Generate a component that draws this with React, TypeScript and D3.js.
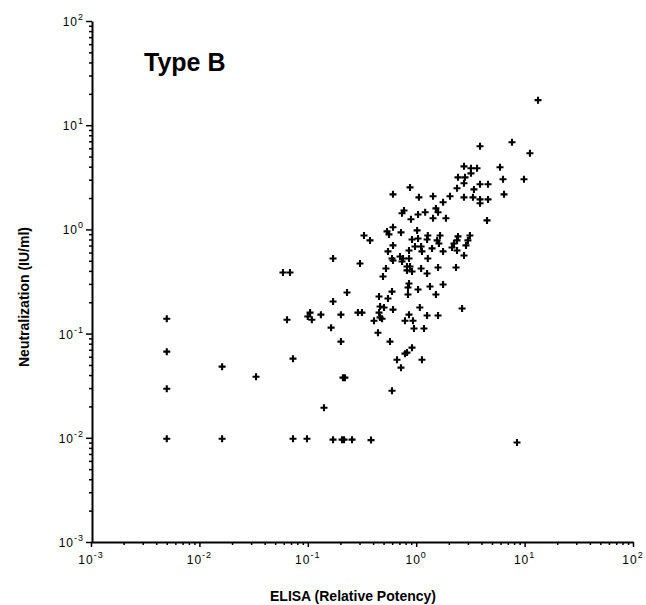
import React, { useEffect, useRef } from "react";
import * as d3 from "d3";

// [ELISA relative potency, neutralization IU/ml] for each type B serum
const sera: [number, number][] = [
  [13.3, 17.4], [3.88, 6.28], [7.65, 6.87], [11.2, 5.38], [5.93, 3.95],
  [3.2, 3.86], [3.64, 3.86], [3.2, 3.45], [6.32, 3.03], [9.87, 3.03],
  [3.88, 2.71], [4.6, 2.71], [3.41, 2.42], [6.46, 2.17], [3.34, 2.03],
  [3.88, 1.94], [4.6, 1.94], [3.88, 1.78], [4.5, 1.22], [3.13, 0.875],
  [8.51, 0.009], [2.65, 0.174], [2.76, 4.03], [2.43, 3.16], [2.82, 3.16],
  [2.76, 2.77], [0.877, 2.53], [0.611, 2.17], [1.06, 2.03], [1.43, 2.08],
  [1.77, 1.82], [2.05, 2.08], [2.38, 2.48], [2.76, 2.03], [0.772, 1.52],
  [0.74, 1.43], [1.04, 1.39], [1.21, 1.46], [0.895, 1.25], [1.43, 1.28],
  [1.52, 1.59], [1.59, 1.46], [1.88, 1.28], [0.33, 0.875], [0.375, 0.784],
  [0.538, 0.957], [0.561, 0.895], [0.611, 1.05], [0.724, 0.936], [1.02, 0.978],
  [0.915, 0.801], [1.04, 0.819], [0.975, 0.686], [1.11, 0.686], [1.28, 0.875],
  [1.26, 0.801], [1.56, 0.784], [1.62, 0.733], [1.66, 0.875], [1.4, 0.657],
  [1.77, 0.615], [2.14, 0.671], [2.23, 0.733], [2.38, 0.784], [2.43, 0.857],
  [2.38, 0.628], [2.88, 0.702], [3.0, 0.784], [2.76, 0.562], [0.611, 0.702],
  [0.549, 0.615], [0.598, 0.526], [0.611, 0.503], [0.709, 0.55], [0.756, 0.526],
  [0.74, 0.492], [0.858, 0.526], [0.858, 0.628], [1.13, 0.615], [1.28, 0.526],
  [0.526, 0.422], [0.822, 0.441], [0.877, 0.441], [0.822, 0.404], [0.915, 0.395],
  [1.11, 0.422], [1.26, 0.377], [1.59, 0.431], [2.33, 0.431], [0.494, 0.353],
  [0.303, 0.471], [0.858, 0.303], [0.84, 0.277], [0.84, 0.237], [1.04, 0.265],
  [1.34, 0.283], [1.77, 0.296], [1.52, 0.237], [0.598, 0.253], [0.454, 0.227],
  [0.549, 0.217], [0.316, 0.159], [0.464, 0.182], [0.505, 0.178], [0.454, 0.159],
  [0.464, 0.143], [0.484, 0.139], [0.408, 0.133], [0.611, 0.17], [1.08, 0.178],
  [0.858, 0.152], [0.788, 0.133], [0.934, 0.133], [1.26, 0.149], [1.59, 0.149],
  [0.444, 0.102], [0.954, 0.112], [1.18, 0.112], [0.573, 0.0838], [0.915, 0.0733],
  [0.822, 0.0657], [0.788, 0.0642], [0.665, 0.0562], [1.13, 0.0562], [0.724, 0.0471],
  [0.598, 0.0283], [0.171, 0.526], [0.059, 0.386], [0.0685, 0.386], [0.23, 0.248],
  [0.171, 0.203], [0.0643, 0.136], [0.105, 0.159], [0.1, 0.146], [0.109, 0.136],
  [0.132, 0.152], [0.202, 0.152], [0.29, 0.159], [0.164, 0.114], [0.202, 0.0838],
  [0.073, 0.0575], [0.0333, 0.0386], [0.211, 0.0378], [0.22, 0.0378], [0.141, 0.0194],
  [0.005, 0.139], [0.005, 0.0671], [0.0162, 0.0482], [0.005, 0.0296], [0.005, 0.0098],
  [0.0162, 0.0098], [0.073, 0.0098], [0.0983, 0.0098], [0.171, 0.0096], [0.207, 0.0096],
  [0.216, 0.0096], [0.256, 0.0096], [0.383, 0.0095],
];

const decades = [-3, -2, -1, 0, 1, 2];
const xTitle = "ELISA (Relative Potency)";
const yTitle = "Neutralization (IU/ml)";
const panelTitle = "Type B";

const font = "'Liberation Sans', Arial, Helvetica, sans-serif";

function App() {
  const ref = useRef<SVGSVGElement>(null);

  useEffect(() => {
    const svg = d3.select(ref.current);
    svg.selectAll("*").remove();

    const x = d3.scaleLog().domain([1e-3, 1e2]).range([91, 633]);
    const y = d3.scaleLog().domain([1e-3, 1e2]).range([542, 21]);

    const majors = decades.map((d) => Math.pow(10, d));
    const minors = decades
      .slice(0, -1)
      .flatMap((d) => d3.range(2, 10).map((m) => m * Math.pow(10, d)));

    // left axis
    const yMajor = svg
      .append("g")
      .attr("transform", "translate(92,0)")
      .call(d3.axisLeft(y).tickValues(majors).tickSize(6).tickSizeOuter(0).tickFormat(() => ""));
    yMajor.select(".domain").attr("stroke-width", 2);
    yMajor.selectAll(".tick line").attr("stroke-width", 1.5);
    svg
      .append("g")
      .attr("transform", "translate(92,0)")
      .call(d3.axisLeft(y).tickValues(minors).tickSize(3).tickFormat(() => ""))
      .call((g) => g.select(".domain").remove())
      .selectAll(".tick line")
      .attr("stroke-width", 1.5);

    // bottom axis
    const xMajor = svg
      .append("g")
      .attr("transform", "translate(0,542)")
      .call(d3.axisBottom(x).tickValues(majors).tickSize(5).tickSizeOuter(0).tickFormat(() => ""));
    xMajor.select(".domain").attr("stroke-width", 2);
    xMajor.selectAll(".tick line").attr("stroke-width", 1.5);
    svg
      .append("g")
      .attr("transform", "translate(0,542)")
      .call(d3.axisBottom(x).tickValues(minors).tickSize(3).tickFormat(() => ""))
      .call((g) => g.select(".domain").remove())
      .selectAll(".tick line")
      .attr("stroke-width", 1.5);

    // tick labels: 10 with superscript exponent
    const yLab = svg
      .append("g")
      .selectAll("text")
      .data(decades)
      .enter()
      .append("text")
      .attr("x", 84)
      .attr("y", (d) => y(Math.pow(10, d)) + 5)
      .attr("text-anchor", "end")
      .style("font-family", font)
      .style("font-size", "12px")
      .attr("letter-spacing", 1);
    yLab.append("tspan").text("10");
    yLab
      .append("tspan")
      .attr("dy", -6)
      .style("font-size", "9px")
      .text((d) => String(d));

    const xLab = svg
      .append("g")
      .selectAll("text")
      .data(decades)
      .enter()
      .append("text")
      .attr("x", (d) => x(Math.pow(10, d)))
      .attr("y", 564)
      .attr("text-anchor", "middle")
      .style("font-family", font)
      .style("font-size", "12px")
      .attr("letter-spacing", 1);
    xLab.append("tspan").text("10");
    xLab
      .append("tspan")
      .attr("dy", -6)
      .style("font-size", "9px")
      .text((d) => String(d));

    // titles
    svg
      .append("text")
      .attr("x", 353)
      .attr("y", 601)
      .attr("text-anchor", "middle")
      .style("font-family", font)
      .style("font-weight", "bold")
      .style("font-size", "14px")
      .text(xTitle);
    svg
      .append("text")
      .attr("transform", "translate(29,297) rotate(-90)")
      .attr("text-anchor", "middle")
      .style("font-family", font)
      .style("font-weight", "bold")
      .style("font-size", "14px")
      .text(yTitle);
    svg
      .append("text")
      .attr("x", 144)
      .attr("y", 71)
      .style("font-family", font)
      .style("font-weight", "bold")
      .style("font-size", "25px")
      .text(panelTitle);

    // points as + markers
    svg
      .append("g")
      .selectAll("path")
      .data(sera)
      .enter()
      .append("path")
      .attr("transform", (d) => "translate(" + x(d[0]) + "," + y(d[1]) + ")")
      .attr("d", "M-3.5,0H3.5M0,-3.5V3.5")
      .attr("stroke", "#000")
      .attr("stroke-width", 2.1)
      .attr("fill", "none");
  }, []);

  return (
    <svg
      ref={ref}
      width={646}
      height={605}
      style={{ position: "absolute", left: 0, top: 0, background: "#fff" }}
    />
  );
}

export default App;
